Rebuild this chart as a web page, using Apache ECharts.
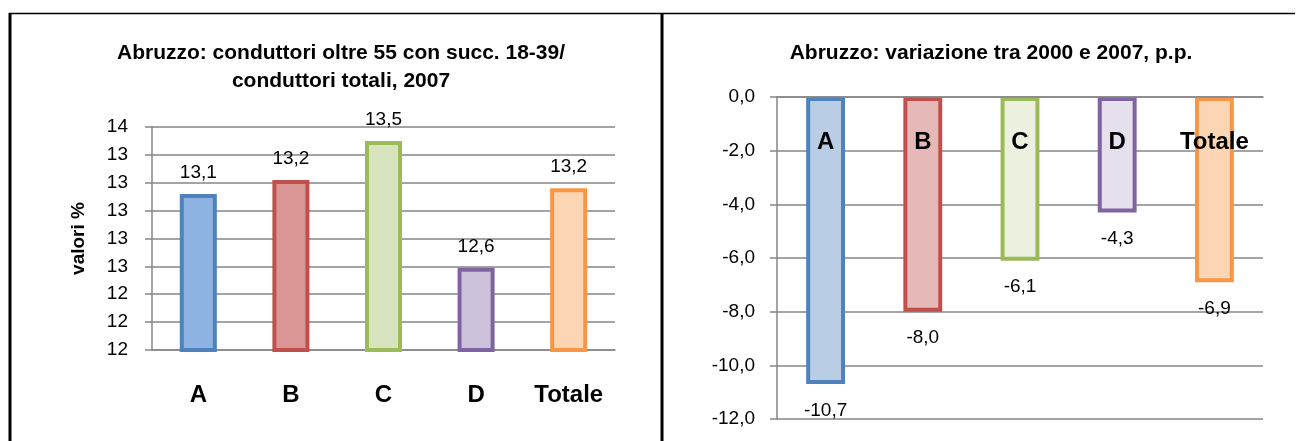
<!DOCTYPE html>
<html>
	<head>
		<title>Abruzzo</title>
		<script src="https://cdn.jsdelivr.net/npm/echarts@6/dist/echarts.min.js"></script>
	</head>
	<body style="margin:0;padding:0;background:#fff">
		<div id="main" style="width: 1296px;height:441px;"></div>
	</body>
	<script type="text/javascript">
var myChart = echarts.init(document.getElementById('main'));

// dati
var categories = ['A', 'B', 'C', 'D', 'Totale'];
var quota2007 = [13.12, 13.22, 13.50, 12.59, 13.16];
var variazione = [-10.7, -8.0, -6.1, -4.3, -6.9];

// scala asse sinistro
var yMin = 12, yMax = 13.6, yStep = 0.2;

// colori
var borderColors = ['#4F81BD', '#C0504D', '#9BBB59', '#8064A2', '#F79646'];
var fillLeft = ['#8EB4E3', '#D99694', '#D7E4BD', '#CCC1DA', '#FCD5B5'];
var fillRight = ['#B9CDE5', '#E6B9B8', '#EBF1DE', '#E6E0EC', '#FCD5B5'];

var font = 'Liberation Sans, Arial, sans-serif';
var grey = '#868686';

function virgola(v) {
    return v.toFixed(1).replace('.', ',');
}

function barData(values, fills) {
    return values.map(function (v, i) {
        return {
            value: v,
            itemStyle: { color: fills[i], borderColor: borderColors[i], borderWidth: 4 }
        };
    });
}

function arrotonda(v) {
    return String(Math.round(v));
}

option = {
    animation: false,
    textStyle: { fontFamily: font },
    title: [{
        text: 'Abruzzo: conduttori oltre 55 con succ. 18-39/\nconduttori totali, 2007',
        left: 336,
        top: 34,
        textAlign: 'center',
        textStyle: { fontFamily: font, fontSize: 21, fontWeight: 'bold', color: '#000', lineHeight: 28 }
    }, {
        text: 'Abruzzo: variazione tra 2000 e 2007, p.p.',
        left: 986,
        top: 34,
        textAlign: 'center',
        textStyle: { fontFamily: font, fontSize: 21, fontWeight: 'bold', color: '#000', lineHeight: 28 }
    }],
    grid: [
        { left: 152, top: 127, width: 463, height: 223, outerBoundsMode: 'none' },
        { left: 777, top: 97, width: 486, height: 322, outerBoundsMode: 'none' }
    ],
    xAxis: [{
        gridIndex: 0,
        type: 'category',
        data: categories,
        axisLine: { lineStyle: { color: grey, width: 1.5 } },
        axisTick: { length: 8, lineStyle: { color: grey, width: 1.5 } },
        axisLabel: { margin: 25, fontSize: 24, fontWeight: 'bold', color: '#000' }
    }, {
        gridIndex: 1,
        type: 'category',
        data: categories,
        position: 'top',
        z: 5,
        axisLine: { onZero: false, lineStyle: { color: grey, width: 1.5 } },
        axisTick: { inside: true, length: 8, lineStyle: { color: grey, width: 1.5 } },
        axisLabel: { inside: true, margin: 25, fontSize: 24, fontWeight: 'bold', color: '#000' }
    }],
    yAxis: [{
        gridIndex: 0,
        type: 'value',
        min: yMin,
        max: yMax,
        interval: yStep,
        name: 'valori %',
        nameLocation: 'middle',
        nameRotate: 90,
        nameGap: 57,
        nameTextStyle: { fontSize: 19, fontWeight: 'bold', color: '#000' },
        axisLine: { show: true, lineStyle: { color: grey, width: 1.5 } },
        axisTick: { show: true, length: 7, lineStyle: { color: grey, width: 1.5 } },
        axisLabel: {
            margin: 24, fontSize: 19, color: '#000',
            showMinLabel: true, showMaxLabel: true,
            // solo min e max qui, le altre sul secondo asse
            formatter: function (v) {
                return (Math.abs(v - yMin) < 1e-6 || Math.abs(v - yMax) < 1e-6) ? arrotonda(v) : '';
            }
        },
        splitLine: { lineStyle: { color: grey, width: 1.5 } }
    }, {
        gridIndex: 1,
        type: 'value',
        min: -12,
        max: 0,
        interval: 2,
        axisLine: { show: true, lineStyle: { color: grey, width: 1.5 } },
        axisTick: { show: true, length: 7, lineStyle: { color: grey, width: 1.5 } },
        axisLabel: {
            margin: 22, fontSize: 19, color: '#000',
            showMinLabel: true, showMaxLabel: true,
            formatter: function (v) { return virgola(v); }
        },
        splitLine: { lineStyle: { color: grey, width: 1.5 } }
    }, {
        // etichette intermedie dell'asse sinistro
        gridIndex: 0,
        type: 'value',
        position: 'left',
        min: yMin,
        max: yMax,
        interval: yStep,
        axisLine: { show: false },
        axisTick: { show: false },
        splitLine: { show: false },
        axisLabel: {
            margin: 24, fontSize: 19, color: '#000',
            showMinLabel: false, showMaxLabel: false,
            formatter: arrotonda
        }
    }],
    series: [{
        type: 'bar',
        xAxisIndex: 0,
        yAxisIndex: 0,
        barWidth: '40%',
        data: barData(quota2007, fillLeft),
        label: {
            show: true,
            position: 'top',
            distance: 5,
            fontSize: 19,
            color: '#000',
            formatter: function (p) { return virgola(p.value); }
        }
    }, {
        type: 'bar',
        xAxisIndex: 1,
        yAxisIndex: 1,
        barWidth: '40%',
        data: barData(variazione, fillRight),
        label: {
            show: true,
            position: 'bottom',
            distance: 10,
            fontSize: 19,
            color: '#000',
            formatter: function (p) { return virgola(p.value); }
        }
    }],
    graphic: [
        { type: 'line', shape: { x1: 9, y1: 13.5, x2: 1295, y2: 13.5 }, style: { stroke: '#000', lineWidth: 1.5 } },
        { type: 'line', shape: { x1: 10, y1: 13, x2: 10, y2: 441 }, style: { stroke: '#000', lineWidth: 3 } },
        { type: 'line', shape: { x1: 662, y1: 13, x2: 662, y2: 441 }, style: { stroke: '#000', lineWidth: 3 } }
    ]
};
myChart.setOption(option);
	</script>
</html>
